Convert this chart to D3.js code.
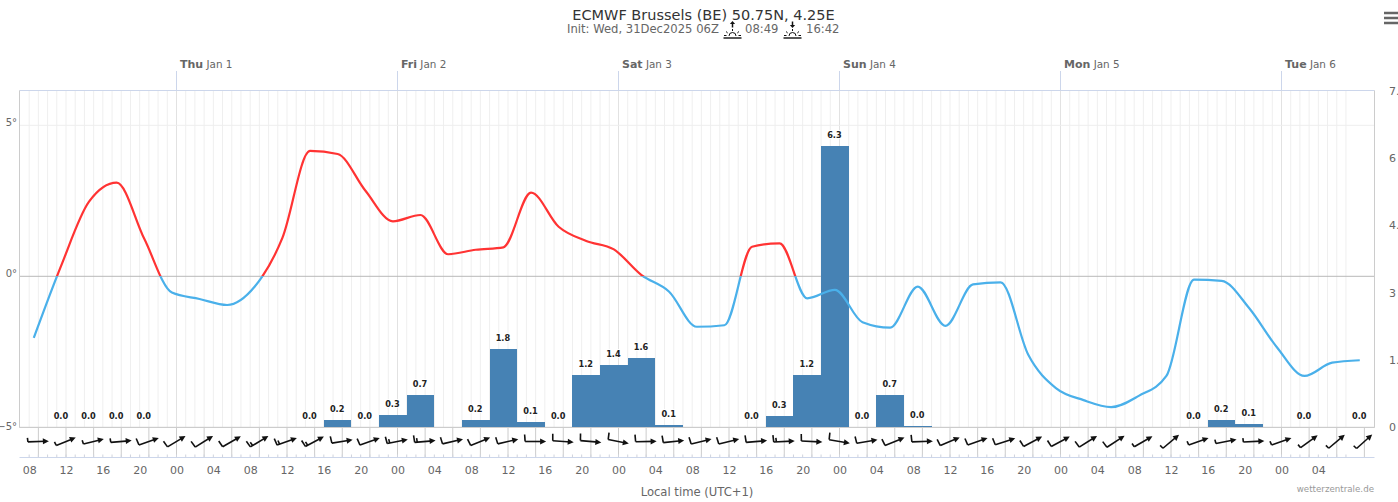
<!DOCTYPE html>
<html>
<head>
<meta charset="utf-8">
<title>ECMWF Brussels</title>
<script src="https://cdnjs.cloudflare.com/ajax/libs/d3/7.8.5/d3.min.js"></script>
<style>
  html, body { margin: 0; padding: 0; background: #fff; overflow: hidden; }
  text { font-family: "DejaVu Sans", sans-serif; }
</style>
</head>
<body>
<div id="chart"></div>
<script>
// Hours are counted from Thu Jan 1 00:00 local time
const tempStart = -15.5;
const windStart = -15;
const stepHours = 3;

// Temperature in degrees, one per 3 hours
const temperature = [-2.04, 0.37, 2.47, 3.10, 1.24, -0.54, -0.75, -0.95, -0.34, 1.27,
  4.15, 4.05, 2.84, 1.82, 2.03, 0.73, 0.88, 0.96, 2.77, 1.64,
  1.17, 0.89, 0.04, -0.51, -1.67, -1.62, 0.98, 1.09, -0.73, -0.45,
  -1.52, -1.70, -0.34, -1.64, -0.27, -0.20, -2.60, -3.70, -4.10, -4.33,
  -3.96, -3.30, -0.11, -0.15, -1.06, -2.35, -3.30, -2.86, -2.78];

// Precipitation in mm per 3 hours (null = no bar and no label)
const precipitation = [null, 0, 0, 0, 0, null, null, null, null, null,
  0, 0.16, 0, 0.27, 0.71, null, 0.16, 1.75, 0.11, 0,
  1.16, 1.38, 1.55, 0.05, null, null, 0, 0.25, 1.16, 6.27,
  0, 0.71, 0.03, null, null, null, null, null, null, null,
  null, null, 0, 0.16, 0.06, null, 0, null, 0];

// Wind arrow angle in degrees above horizontal, and feather count in half steps
const windAngle = [2, 22, 14, 5, 19, 31, 32, 30, 31, 20,
  28, 9, 20, 11, 5, 13, 22, 13, 0, -4,
  -5, -11, 1, 6, 14, 14, 5, 3, -3, -10,
  10, 22, 2, 23, 19, 18, 28, 28, 32, 33,
  30, 40, 19, 11, 3, 19, 36, 40, 42];
const windFeathers = [1, 1, 1, 1, 2, 2, 2, 2, 3, 3,
  3, 2, 2, 3, 3, 2, 2, 2, 2, 2,
  2, 2, 2, 2, 2, 2, 2, 3, 2, 2,
  2, 2, 2, 2, 2, 2, 2, 2, 2, 2,
  1, 1, 1, 1, 1, 1, 1, 1, 1];

const dayLabels = [
  { hour: 0, day: "Thu", date: "Jan 1" },
  { hour: 24, day: "Fri", date: "Jan 2" },
  { hour: 48, day: "Sat", date: "Jan 3" },
  { hour: 72, day: "Sun", date: "Jan 4" },
  { hour: 96, day: "Mon", date: "Jan 5" },
  { hour: 120, day: "Tue", date: "Jan 6" }
];
const tempTicks = [-5, 0, 5];
const precipTicks = [0, 1.5, 3, 4.5, 6, 7.5];
const hourTicks = d3.range(-16, 127, 4);
const gridHours = d3.range(-16, 128);

const width = 1398, height = 502;
const plot = { left: 19.5, right: 1374.5, top: 90.5, bottom: 427.5, windBottom: 457.5 };

const x = d3.scaleLinear().domain([0, 120]).range([176.5, 1281.5]);
const yTemp = d3.scaleLinear().domain([-5, 5]).range([427.3, 125.3]);
const yPrecip = d3.scaleLinear().domain([0, 7.5]).range([427, 91]);

const svg = d3.select("#chart").append("svg")
  .attr("width", width)
  .attr("height", height)
  .style("display", "block");

// Title
svg.append("text").attr("x", 703.5).attr("y", 20).attr("text-anchor", "middle")
  .style("font-size", "14.5px").style("fill", "#333")
  .text("ECMWF Brussels (BE) 50.75N, 4.25E");

const subtitle = [
  { x: 567, t: "Init: Wed, 31Dec2025 06Z" },
  { x: 745, t: "08:49" },
  { x: 806, t: "16:42" }
];
svg.selectAll(".subtitle").data(subtitle).enter().append("text")
  .attr("class", "subtitle")
  .attr("x", (d) => d.x).attr("y", 33)
  .style("font-size", "11.6px").style("fill", "#666")
  .text((d) => d.t);

// Sunrise and sunset icons
function sunIcon(cx, up) {
  const g = svg.append("g").attr("transform", "translate(" + cx + ",38)")
    .attr("fill", "none").attr("stroke", "#111");
  g.append("path").attr("d", "M-9,0H9").attr("stroke-width", 1.4);
  g.append("path").attr("d", "M-3.5,-2A3.5,3.5 0 0 1 3.5,-2").attr("stroke-width", 1);
  g.append("path").attr("stroke-width", 1)
    .attr("d", "M-8.5,-2.5H-6M6,-2.5H8.5M-6.5,-6.5L-4.8,-5M6.5,-6.5L4.8,-5M0,-9V-7");
  g.append("path").attr("stroke-width", 1.5).attr("d", up ? "M0,-15V-10.5" : "M0,-16.5V-12");
  g.append("path").attr("fill", "#111").attr("stroke", "none")
    .attr("d", up ? "M-2.6,-14L0,-17L2.6,-14Z" : "M-2.6,-13L0,-10L2.6,-13Z");
}
sunIcon(732.5, true);
sunIcon(792.5, false);

// Menu button
svg.append("path")
  .attr("d", "M1384,13H1398M1384,18H1398M1384,23H1398")
  .attr("stroke", "#666").attr("stroke-width", 2.4);

// Hourly grid
svg.append("g").selectAll("line").data(gridHours).enter().append("line")
  .attr("x1", (d) => x(d)).attr("x2", (d) => x(d))
  .attr("y1", plot.top).attr("y2", plot.bottom)
  .attr("stroke", (d) => (d % 24 === 0 ? "#e2e2e2" : "#efefef"))
  .attr("stroke-width", 1);

// Temperature grid
svg.append("g").selectAll("line").data(tempTicks).enter().append("line")
  .attr("x1", plot.left).attr("x2", plot.right)
  .attr("y1", (d) => yTemp(d)).attr("y2", (d) => yTemp(d))
  .attr("stroke", (d) => (d === 0 ? "#b8b8b8" : d === 5 ? "#eeeeee" : "#cccccc"))
  .attr("stroke-width", 1);

// Plot border
svg.append("path")
  .attr("d", "M" + plot.left + "," + plot.top + "H" + plot.right)
  .attr("stroke", "#ccd6eb").attr("fill", "none");
svg.append("path")
  .attr("d", "M" + plot.left + "," + plot.top + "V" + plot.bottom + "M" + plot.right + "," + plot.top + "V" + plot.bottom)
  .attr("stroke", "#cccccc").attr("fill", "none");

// Day ticks and labels along the top
const dayG = svg.append("g").selectAll("g").data(dayLabels).enter().append("g");
dayG.append("line")
  .attr("x1", (d) => x(d.hour)).attr("x2", (d) => x(d.hour))
  .attr("y1", 71).attr("y2", plot.top)
  .attr("stroke", "#ccd6eb");
const dayText = dayG.append("text")
  .attr("x", (d) => x(d.hour) + 3.5).attr("y", 68)
  .style("font-size", "10.4px").style("fill", "#666");
dayText.append("tspan").style("font-weight", "bold").style("font-size", "11px").text((d) => d.day);
dayText.append("tspan").text((d) => " " + d.date);

// Left and right axis labels
svg.append("g").selectAll("text").data(tempTicks).enter().append("text")
  .attr("x", 17).attr("y", (d) => (d === -5 ? yTemp(d) + 3 : yTemp(d) + 1))
  .attr("text-anchor", "end")
  .style("font-size", "10px").style("fill", "#666")
  .text((d) => (d < 0 ? "\u2212" : "") + Math.abs(d) + "\u00b0");
svg.append("g").selectAll("text").data(precipTicks).enter().append("text")
  .attr("x", 1389).attr("y", (d) => yPrecip(d) + 4)
  .style("font-size", "11px").style("fill", "#666")
  .text((d) => d);

// Precipitation bars
const barData = precipitation.map((v, i) => ({ hour: tempStart + i * stepHours, value: v }))
  .filter((d) => d.value !== null);
svg.append("g").selectAll("rect").data(barData.filter((d) => d.value > 0)).enter().append("rect")
  .attr("x", (d) => x(d.hour - 1.5))
  .attr("width", (d) => x(d.hour + 1.5) - x(d.hour - 1.5))
  .attr("y", (d) => yPrecip(d.value))
  .attr("height", (d) => yPrecip(0) - yPrecip(d.value))
  .attr("fill", "#4682b4")
  .attr("shape-rendering", "crispEdges");

// Temperature line, red above zero and blue below
const points = temperature.map((t, i) => ({ hour: tempStart + i * stepHours, t: t }));
const line = d3.line()
  .x((d) => x(d.hour))
  .y((d) => yTemp(d.t))
  .curve(d3.curveMonotoneX);
const defs = svg.append("defs");
defs.append("clipPath").attr("id", "above").append("rect")
  .attr("x", 0).attr("y", 0).attr("width", width).attr("height", yTemp(0));
defs.append("clipPath").attr("id", "below").append("rect")
  .attr("x", 0).attr("y", yTemp(0)).attr("width", width).attr("height", height - yTemp(0));
[["above", "#ff3333"], ["below", "#4ab0ea"]].forEach(([id, color]) => {
  svg.append("path").datum(points)
    .attr("clip-path", "url(#" + id + ")")
    .attr("d", line)
    .attr("fill", "none")
    .attr("stroke", color)
    .attr("stroke-width", 2.2)
    .attr("stroke-linejoin", "round");
});

// Bar labels
svg.append("g").selectAll("text").data(barData).enter().append("text")
  .attr("x", (d) => x(d.hour) - 0.5)
  .attr("y", (d) => yPrecip(d.value) - 8)
  .attr("text-anchor", "middle")
  .style("font-size", "8.2px").style("font-weight", "bold")
  .style("fill", "#222")
  .style("stroke", "#fff").style("stroke-width", 2).style("paint-order", "stroke")
  .text((d) => d.value.toFixed(1));

// Wind band: separators and bottom axis
const windHours = windAngle.map((a, i) => windStart + i * stepHours);
svg.append("path")
  .attr("d", "M" + plot.left + "," + plot.bottom + "H" + plot.right)
  .attr("stroke", "#cccccc").attr("fill", "none");
svg.append("g").selectAll("line").data(windHours).enter().append("line")
  .attr("x1", (d) => x(d)).attr("x2", (d) => x(d))
  .attr("y1", plot.bottom).attr("y2", plot.windBottom)
  .attr("stroke", "#cccccc");

const hourAxis = d3.axisBottom(x)
  .tickValues(hourTicks)
  .tickSize(0)
  .tickPadding(9)
  .tickFormat((h) => d3.format("02")(((h % 24) + 24) % 24));
const axisG = svg.append("g")
  .attr("transform", "translate(0," + plot.windBottom + ")")
  .call(hourAxis);
axisG.select(".domain").remove();
axisG.selectAll("text").style("font-size", "11px").style("fill", "#666")
  .style("font-family", "'DejaVu Sans', sans-serif");

svg.append("path")
  .attr("d", "M" + plot.left + "," + plot.windBottom + "H" + plot.right)
  .attr("stroke", "#ccd6eb").attr("fill", "none");
svg.append("g").selectAll("line").data(gridHours).enter().append("line")
  .attr("x1", (d) => x(d)).attr("x2", (d) => x(d))
  .attr("y1", plot.windBottom - 3).attr("y2", plot.windBottom)
  .attr("stroke", "#d0d4de");

// Wind arrows
const arrowLen = 21;
windAngle.forEach((angle, i) => {
  const g = svg.append("g")
    .attr("transform", "translate(" + x(windHours[i]) + ",441.5) rotate(" + (-angle) + ")")
    .attr("stroke", "#111").attr("fill", "none").attr("stroke-width", 1.6);
  const tail = -arrowLen / 2;
  g.append("path").attr("d", "M" + tail + ",0H" + (arrowLen / 2 - 3));
  g.append("path").attr("d", "M" + (arrowLen / 2 - 6) + ",-3L" + (arrowLen / 2) + ",0L" + (arrowLen / 2 - 6) + ",3Z")
    .attr("fill", "#111").attr("stroke", "none");
  // one full feather per two half steps, shorter one for the remainder
  const n = windFeathers[i];
  let pos = tail;
  for (let k = 0; k < Math.floor(n / 2); k++) {
    g.append("path").attr("d", "M" + pos + ",0L" + (pos - 0.5) + ",-7");
    pos += 2.6;
  }
  if (n % 2 === 1) {
    g.append("path").attr("d", "M" + pos + ",0L" + (pos - 0.3) + ",-4");
  }
});

// Footer
svg.append("text").attr("x", 697).attr("y", 495.5).attr("text-anchor", "middle")
  .style("font-size", "11.6px").style("fill", "#666")
  .text("Local time (UTC+1)");
svg.append("text").attr("x", 1374).attr("y", 492).attr("text-anchor", "end")
  .style("font-size", "8.7px").style("fill", "#999")
  .text("wetterzentrale.de");
</script>
</body>
</html>
